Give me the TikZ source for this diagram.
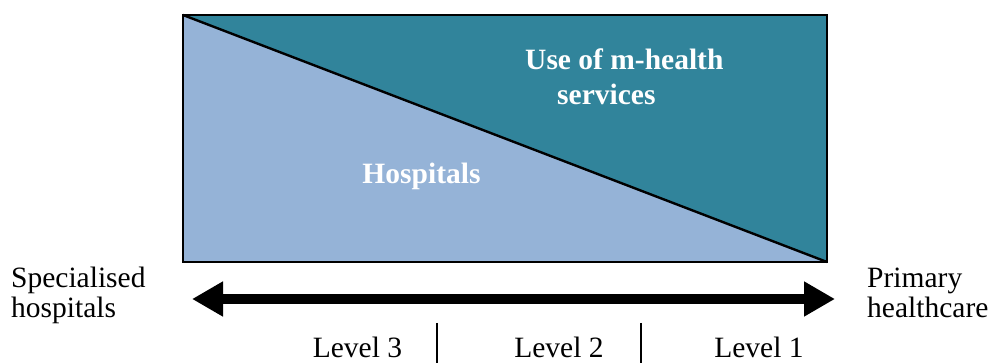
\documentclass[tikz,border=0pt]{standalone}
\usepackage{fontspec}
\setmainfont{Liberation Serif}
\usetikzlibrary{arrows.meta}
\definecolor{tealdark}{HTML}{31849B}
\definecolor{paleblue}{HTML}{95B3D7}
\tikzset{
  label text/.style={inner sep=0pt, font=\fontsize{29.5}{30}\selectfont, align=left},
  area text/.style={inner sep=0pt, text=white, font=\fontsize{29.5}{35}\selectfont\bfseries, align=left},
  frame line/.style={draw=black, line width=2pt},
  divider/.style={draw=black, line width=1.8pt},
  bigarrow/.style={draw=black, line width=10pt,
    arrows={Triangle[length=31pt, width=33pt]-Triangle[length=31pt, width=33pt]}},
}
\begin{document}
\begin{tikzpicture}[x=1pt, y=-1pt]
  \useasboundingbox (0,0) rectangle (991,363);

  % corners of the box
  \coordinate (tl) at (183,15);
  \coordinate (tr) at (827,15);
  \coordinate (br) at (827,262);
  \coordinate (bl) at (183,262);

  % two triangular areas
  \fill[tealdark] (tl) -- (tr) -- (br) -- cycle;
  \fill[paleblue] (tl) -- (br) -- (bl) -- cycle;
  \draw[frame line] (tl) -- (tr) -- (br) -- (bl) -- cycle;
  \draw[frame line, line width=2.4pt] (tl) -- (br);

  % base anchor of a multi-line node sits on its last line
  \node[area text, anchor=base west] (mhealth) at (525,105)
    {Use of m-health\\\hspace{32pt}services};
  \node[area text, anchor=base] (hosp) at (421.5,184) {Hospitals};

  % double-headed arrow
  \coordinate (aleft) at (192,299);
  \coordinate (aright) at (835,299);
  \draw[bigarrow] (aleft) -- (aright);

  \node[label text, anchor=base west] (spec) at (11,318) {Specialised\\hospitals};
  \node[label text, anchor=base west] (prim) at (867,318) {Primary\\healthcare};

  % level dividers
  \coordinate (d1top) at (437,323);
  \coordinate (d1bot) at (437,363);
  \coordinate (d2top) at (641,323);
  \coordinate (d2bot) at (641,363);
  \draw[divider] (d1top) -- (d1bot);
  \draw[divider] (d2top) -- (d2bot);

  \node[label text, anchor=base] (lv3) at (357.5,358) {Level 3};
  \node[label text, anchor=base] (lv2) at (559,358) {Level 2};
  \node[label text, anchor=base] (lv1) at (759,358) {Level 1};
\end{tikzpicture}
\end{document}
